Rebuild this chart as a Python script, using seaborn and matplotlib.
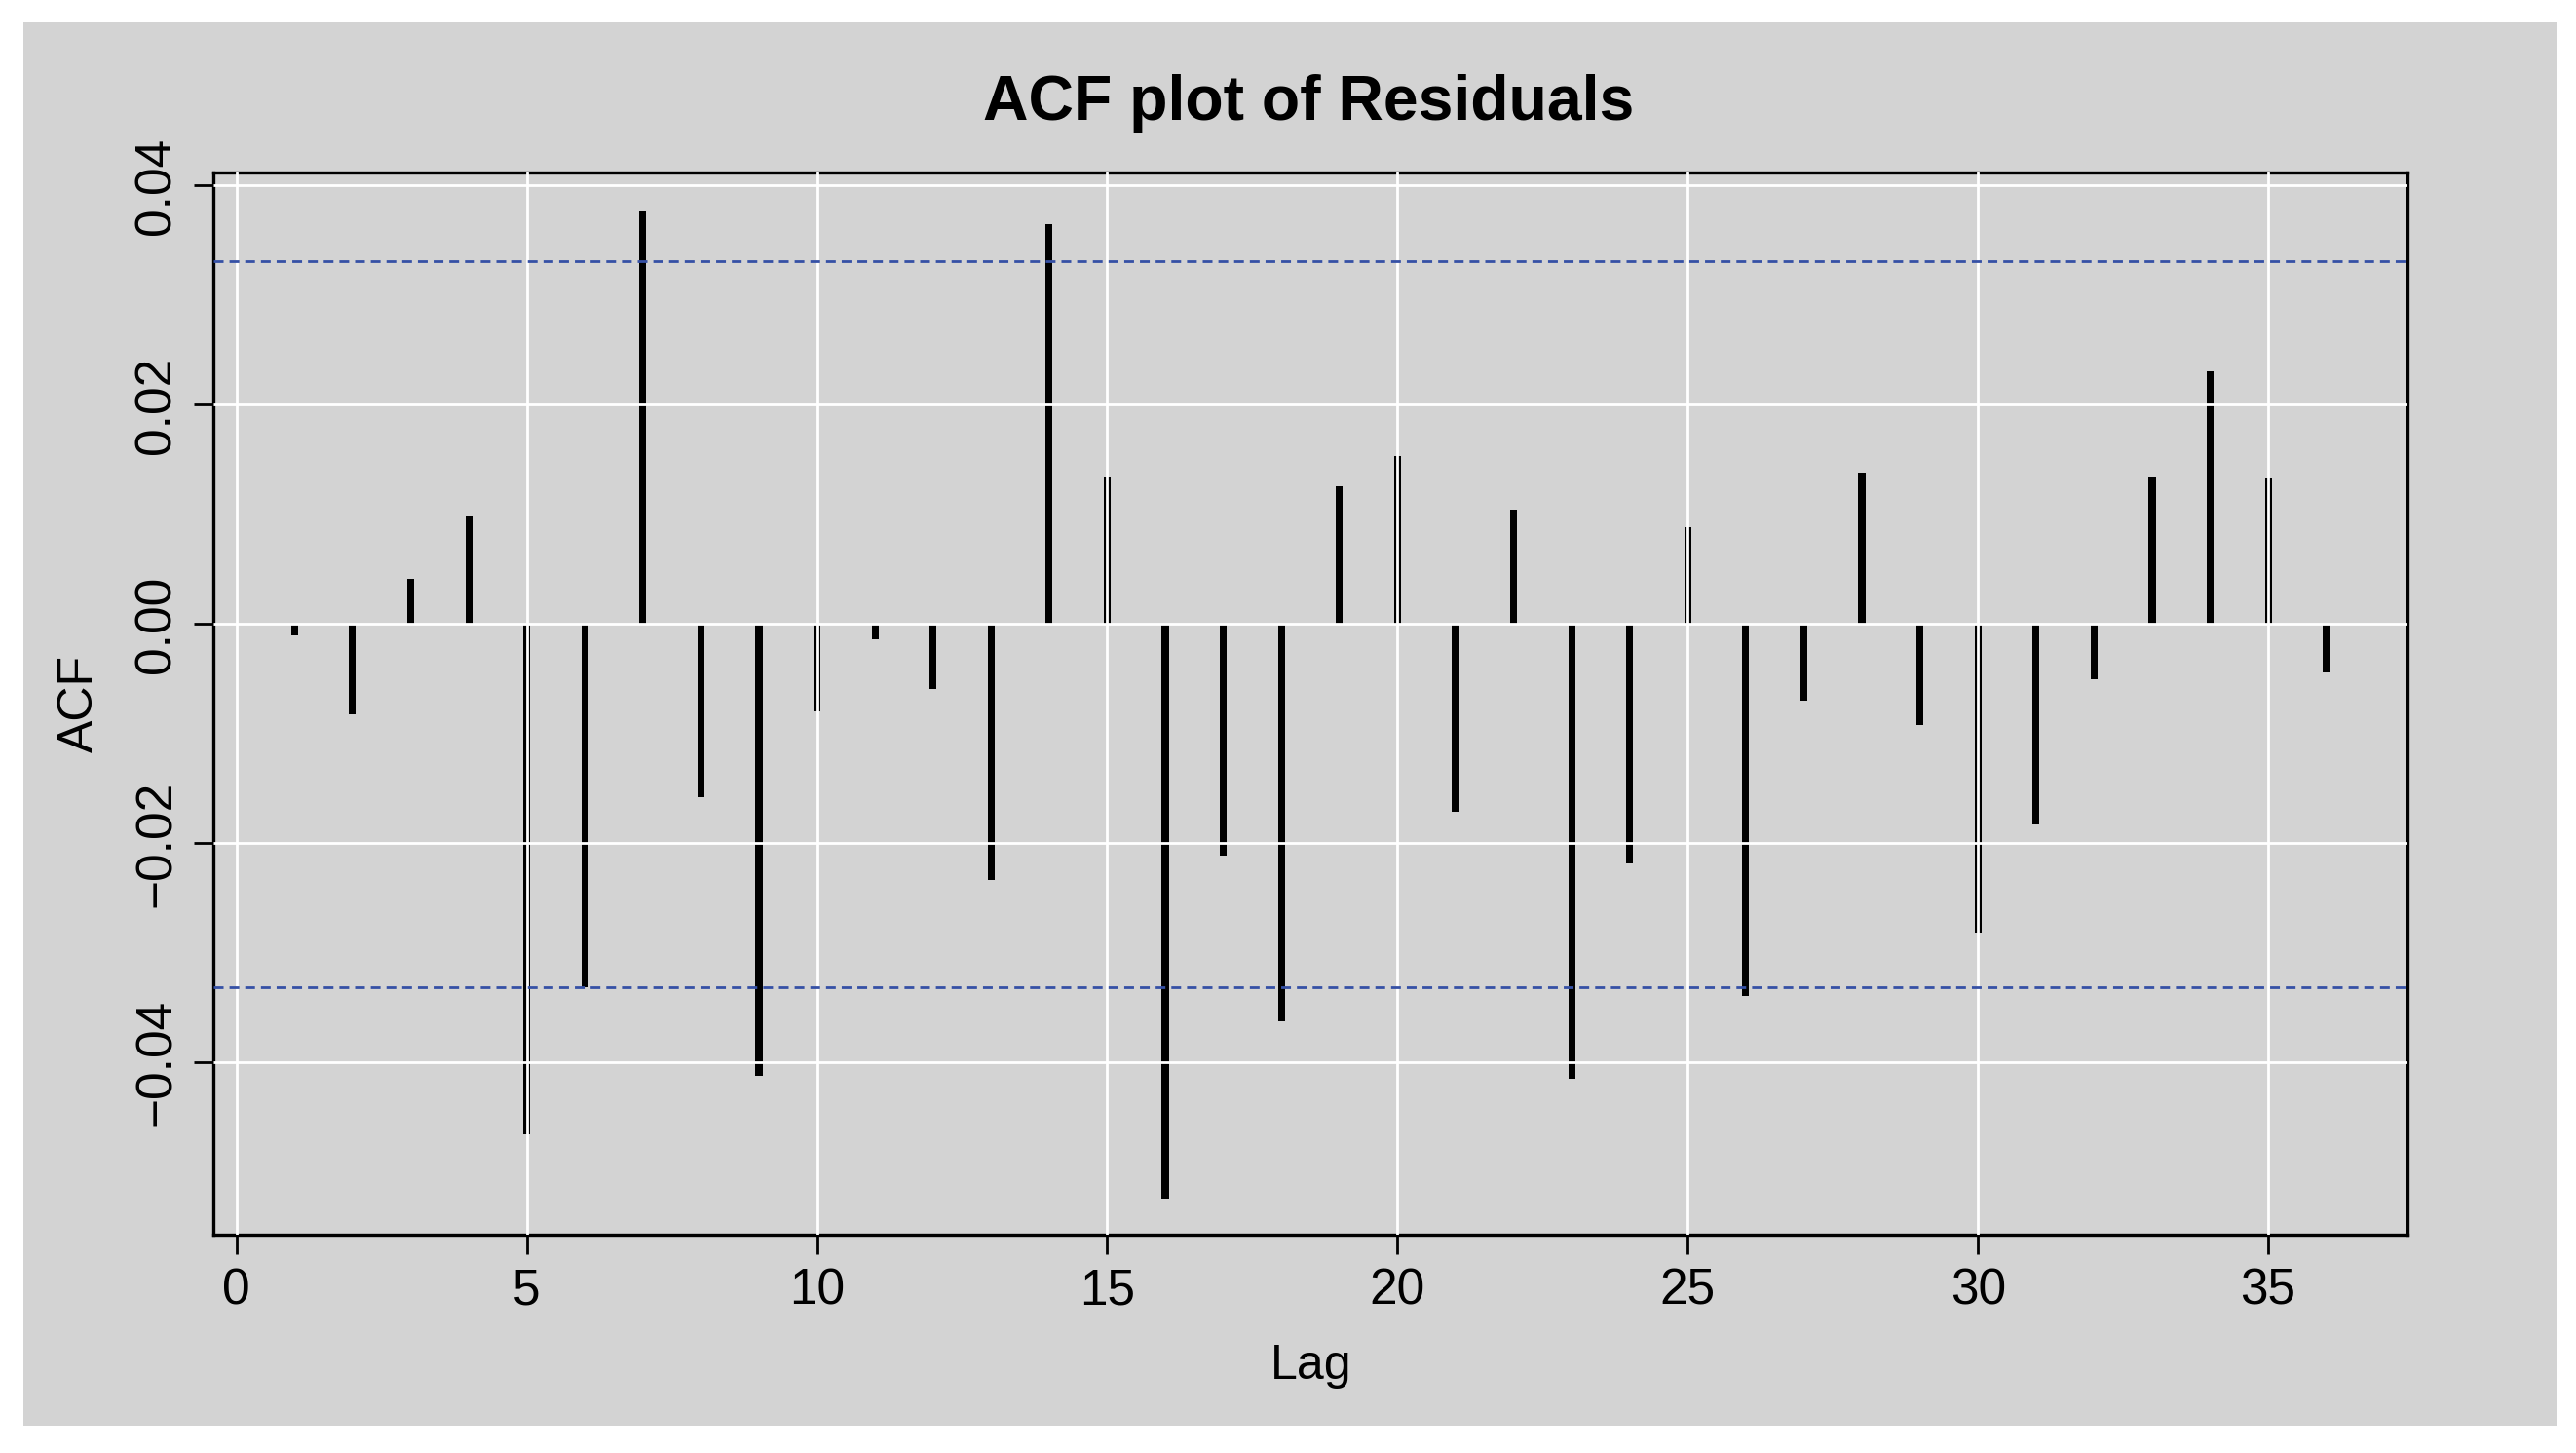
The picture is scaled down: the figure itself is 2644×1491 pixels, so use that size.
import seaborn as sns
import matplotlib.pyplot as plt
import pandas as pd
from matplotlib.patches import Rectangle

# ACF of residuals, lags 1..36
lags = list(range(1, 37))
acf_values = [-0.0010, -0.0082, 0.0041, 0.0099, -0.0465, -0.0331, 0.0376, -0.0158, -0.0412,
              -0.0080, -0.0014, -0.0059, -0.0233, 0.0365, 0.0135, -0.0524, -0.0211, -0.0362,
              0.0126, 0.0153, -0.0171, 0.0104, -0.0415, -0.0218, 0.0088, -0.0339, -0.0070,
              0.0138, -0.0092, -0.0281, -0.0183, -0.0050, 0.0135, 0.0231, 0.0134, -0.0044]
conf_limit = 0.0331
x_ticks = [0, 5, 10, 15, 20, 25, 30, 35]
y_ticks = [-0.04, -0.02, 0.00, 0.02, 0.04]

df = pd.DataFrame({'Lag': lags, 'ACF': acf_values})

sns.set_style('darkgrid', {
    'axes.facecolor': '#D3D3D3',
    'axes.edgecolor': 'black',
    'grid.color': 'white',
    'xtick.bottom': True,
    'ytick.left': True,
    'text.color': 'black',
})
plt.rcParams['font.family'] = ['Liberation Sans', 'DejaVu Sans']
plt.rcParams['axes.unicode_minus'] = True

fig = plt.figure(figsize=(13.22, 7.455), dpi=200, facecolor='white')
fig.patches.append(Rectangle((0.0091, 0.0188), 0.9834, 0.9658, transform=fig.transFigure,
                             facecolor='#D3D3D3', edgecolor='none', zorder=-10))
ax = fig.add_axes([0.0828, 0.1502, 0.8518, 0.7311])

sns.barplot(data=df, x='Lag', y='ACF', native_scale=True, width=0.12, color='black',
            saturation=1, errorbar=None, linewidth=0, ax=ax)

ax.axhline(conf_limit, color='#3550A5', lw=1.0, ls=(0, (3.6, 2.2)), zorder=3)
ax.axhline(-conf_limit, color='#3550A5', lw=1.0, ls=(0, (3.6, 2.2)), zorder=3)

ax.set_axisbelow(False)
ax.grid(True, color='white', lw=1.0, zorder=2.5)
ax.set_xlim(-0.40, 37.40)
ax.set_ylim(-0.0557, 0.0412)
ax.set_xticks(x_ticks, labels=[str(t) for t in x_ticks])
ax.set_yticks(y_ticks, labels=[f'{t:.2f}'.replace('-', '\u2212') for t in y_ticks])
ax.tick_params(axis='both', length=7.2, width=1.0, color='black', pad=4.7,
               labelsize=18.5, labelcolor='black')
for lbl in ax.get_yticklabels():
    lbl.set_rotation(90)
    lbl.set_va('center')
for spine in ax.spines.values():
    spine.set_visible(True)
    spine.set_linewidth(1.2)
    spine.set_color('black')
ax.set_xlabel('')
ax.set_ylabel('')

fig.text(0.508, 0.9175, 'ACF plot of Residuals', ha='center', va='baseline',
         fontsize=23.2, fontweight='bold', color='black')
fig.text(0.509, 0.051, 'Lag', ha='center', va='baseline', fontsize=18, color='black')
fig.text(0.031, 0.5157, 'ACF', ha='center', va='center', rotation=90, fontsize=18,
         color='black')

fig.savefig('out.png', dpi=200, facecolor='white')
